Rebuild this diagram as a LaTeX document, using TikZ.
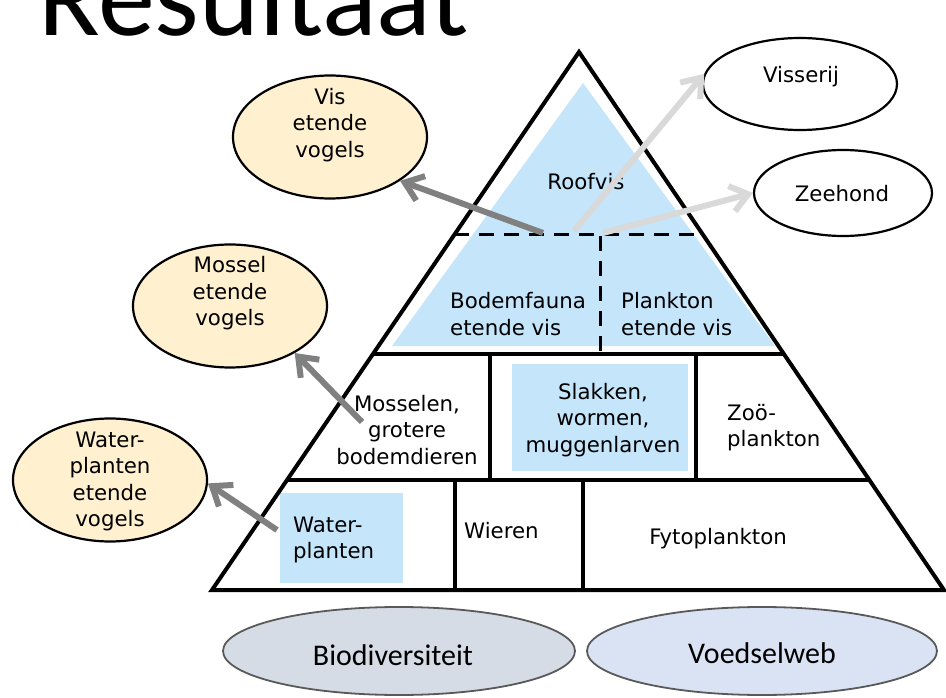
\documentclass[tikz,border=0pt]{standalone}
\usepackage{fontspec}
\setmainfont{DejaVu Sans}
\newfontfamily\titlefont{Carlito}
\usetikzlibrary{arrows.meta,shapes.geometric,calc}

\definecolor{fishblue}{HTML}{C4E5FA}
\definecolor{birdfill}{HTML}{FFF0CF}
\definecolor{biofill}{HTML}{D6DCE5}
\definecolor{webfill}{HTML}{DAE3F3}
\definecolor{ovalline}{HTML}{595959}
\definecolor{arrowdark}{HTML}{808080}
\definecolor{arrowlight}{HTML}{D9D9D9}

\begin{document}
\begin{tikzpicture}[x=1pt,y=-1pt,
  lbl/.style={font=\fontsize{21.3}{26.4}\selectfont, inner sep=0pt, text=black},
  oval/.style={ellipse, draw=black, line width=2.2pt, inner sep=0pt},
  bird/.style={oval, fill=birdfill, minimum width=194pt, minimum height=123pt},
  theme/.style={ellipse, draw=ovalline, line width=1.8pt, inner sep=0pt,
                minimum width=352pt, minimum height=88pt},
  themetext/.style={font=\titlefont\fontsize{30}{30}\selectfont, inner sep=0pt, anchor=base},
  outline/.style={line width=4pt, line join=miter},
  divider/.style={line width=3.6pt},
  dashdiv/.style={line width=3pt, dash pattern=on 15pt off 10pt},
  feeddark/.style={draw=arrowdark, line width=6pt,
                   -{Straight Barb[length=17pt,width=26pt]}},
  feedlight/.style={draw=arrowlight, line width=6pt,
                    -{Straight Barb[length=17pt,width=26pt]}}
]
\useasboundingbox (0,0) rectangle (946,698);

% heading
\node[anchor=base west, font=\titlefont\fontsize{114}{114}\selectfont, inner sep=0pt]
  (title) at (38,36) {Resultaat};

% pyramid corners
\coordinate (apex) at (579,52);
\coordinate (bl) at (212,590);
\coordinate (br) at (944,590);

% highlighted groups
\fill[fishblue] (583,83) -- (392,346) -- (775,346) -- cycle;
\fill[fishblue] (512,364) rectangle (688,471);
\fill[fishblue] (280,493) rectangle (403,583);

% level boundaries
\draw[dashdiv] ($(apex)!0.3401!(bl)$) -- ($(apex)!0.3401!(br)$);
\draw[dashdiv] (600,236) -- (600,354);
\draw[divider] ($(apex)!0.5613!(bl)$) -- ($(apex)!0.5613!(br)$);
\draw[divider] ($(apex)!0.7955!(bl)$) -- ($(apex)!0.7955!(br)$);
\draw[divider] (490,354) -- (490,480);
\draw[divider] (696,354) -- (696,480);
\draw[divider] (455,480) -- (455,590);
\draw[divider] (583,480) -- (583,590);
\draw[outline] (apex) -- (bl) -- (br) -- cycle;

% pyramid labels
\node[lbl, anchor=base] (roofvis) at (586,190) {Roofvis};
\node[lbl, anchor=west, align=left] (bodemvis) at (450,314) {Bodemfauna\\etende vis};
\node[lbl, anchor=west, align=left] (planktonvis) at (621,314) {Plankton\\etende vis};
\node[lbl, align=center] (mosselen) at (407,430) {Mosselen,\\grotere\\bodemdieren};
\node[lbl, align=center] (slakken) at (603,420) {Slakken,\\wormen,\\muggenlarven};
\node[lbl, anchor=west, align=left] (zoo) at (727,427.5) {Zoö-\\plankton};
\node[lbl, anchor=west, align=left] (waterplanten) at (293,540) {Water-\\planten};
\node[lbl, anchor=base west] (wieren) at (464,538) {Wieren};
\node[lbl, anchor=base] (fyto) at (718,544) {Fytoplankton};

% consumers outside the pyramid
\node[bird] (visvogel) at (330,137) {};
\node[lbl, align=center] (visvogelT) at (330,125) {Vis\\etende\\vogels};
\node[bird] (mosvogel) at (230,306) {};
\node[lbl, align=center] (mosvogelT) at (230,293.5) {Mossel\\etende\\vogels};
\node[bird] (watvogel) at (110,480) {};
\node[lbl, align=center] (watvogelT) at (110,481.5) {Water-\\planten\\etende\\vogels};
\node[oval, fill=white, minimum width=194pt, minimum height=92pt] (visserij) at (800,84) {};
\node[lbl, anchor=base] (visserijT) at (801,83) {Visserij};
\node[oval, fill=white, minimum width=178pt, minimum height=86pt] (zeehond) at (843,193) {};
\node[lbl, anchor=base] (zeehondT) at (842,202) {Zeehond};

% feeding relations
\coordinate (roofL) at (543,233);
\coordinate (roofM) at (574,231);
\coordinate (roofR) at (603,233);
\coordinate (mosStart) at (362,422);
\coordinate (watStart) at (277,530);
\draw[feeddark] (roofL) -- (visvogel.-32);
\draw[feedlight] (roofM) -- (visserij.174);
\draw[feedlight] (roofR) -- (zeehond.180);
\draw[feeddark] (mosStart) -- (mosvogel.-36);
\draw[feeddark] (watStart) -- (watvogel.-2);

% themes
\node[theme, fill=biofill] (bio) at (399,651) {};
\node[themetext] (bioT) at (393,665) {Biodiversiteit};
\node[theme, fill=webfill, minimum width=350pt] (web) at (762,651) {};
\node[themetext] (webT) at (762,663) {Voedselweb};
\end{tikzpicture}
\end{document}
